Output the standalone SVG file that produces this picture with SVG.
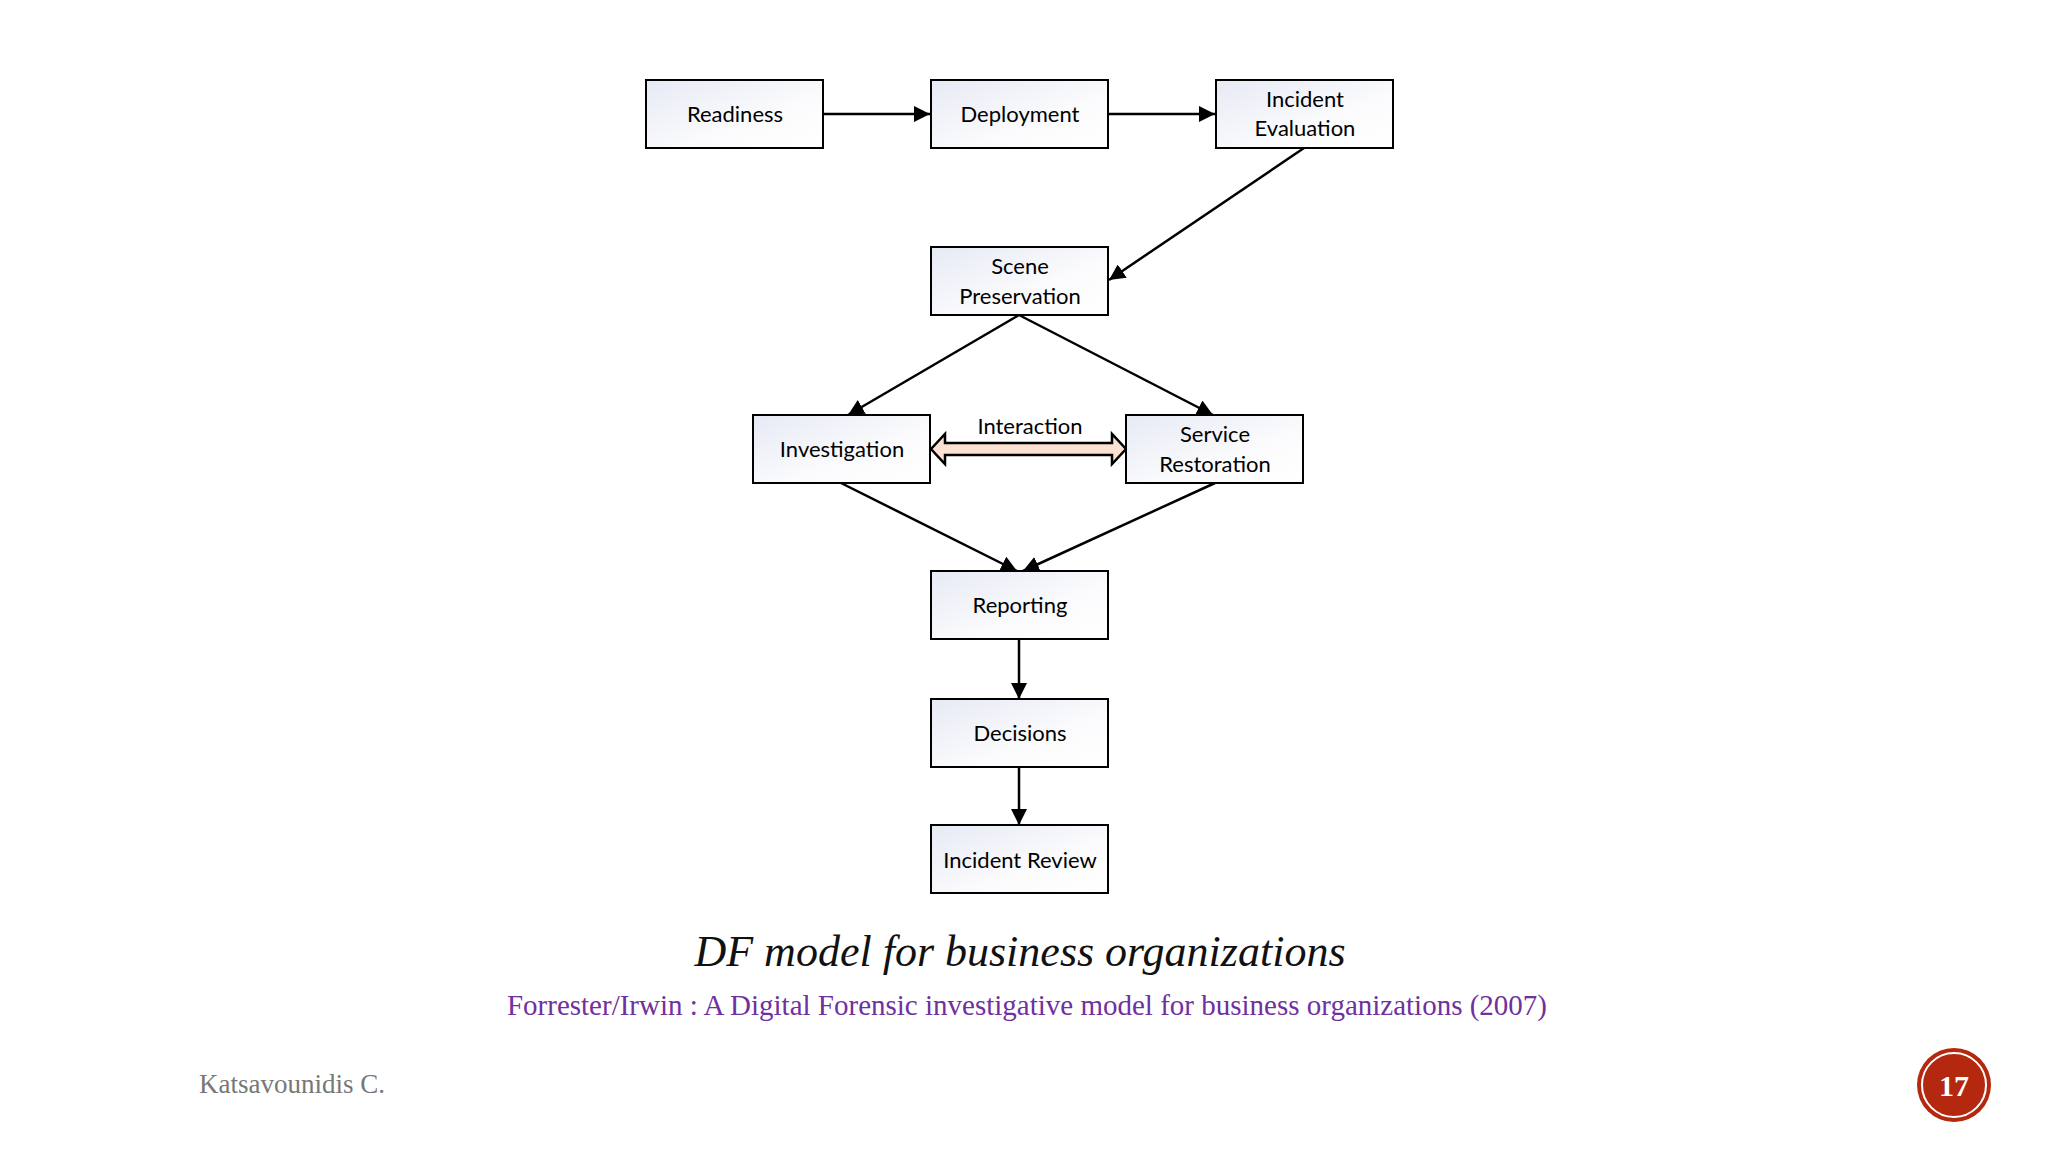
<svg xmlns="http://www.w3.org/2000/svg" width="2048" height="1152" viewBox="0 0 2048 1152">
<style>
.box{fill:url(#g);stroke:#000;stroke-width:2}
.t{font-family:Lato,"Open Sans",sans-serif;font-size:22px;text-anchor:middle;fill:#000}
.c{stroke:#000;stroke-width:2.5;fill:none;marker-end:url(#ah2)}
</style>
<defs>
<linearGradient id="g" x1="0" y1="0" x2="1" y2="1"><stop offset="0" stop-color="#e6eaf4"/><stop offset="0.6" stop-color="#fbfbfd"/><stop offset="1" stop-color="#ffffff"/></linearGradient>
<marker id="ah2" viewBox="0 0 10 10" refX="10" refY="5" markerWidth="16" markerHeight="16" orient="auto" markerUnits="userSpaceOnUse"><path d="M0,0 L10,5 L0,10 z" fill="#000"/></marker>
</defs>
<rect width="2048" height="1152" fill="#fff"/>
<g id="connectors">
<line class="c" x1="823" y1="114" x2="930" y2="114"/>
<line class="c" x1="1108" y1="114" x2="1215" y2="114"/>
<line class="c" x1="1304" y1="148" x2="1109" y2="280"/>
<line class="c" x1="1019" y1="315" x2="848" y2="415"/>
<line class="c" x1="1019" y1="315" x2="1213" y2="415"/>
<line class="c" x1="841" y1="483" x2="1017" y2="571"/>
<line class="c" x1="1215" y1="483" x2="1023" y2="571"/>
<line class="c" x1="1019" y1="639" x2="1019" y2="699"/>
<line class="c" x1="1019" y1="767" x2="1019" y2="825"/>
<path d="M931,449 L945,434 L945,443 L1112,443 L1112,434 L1126,449 L1112,464 L1112,455 L945,455 L945,464 Z" fill="#fbe1d2" stroke="#000" stroke-width="2.5"/>
<text class="t" x="1030" y="434">Interaction</text>
</g>
<g id="readiness"><rect class="box" x="646" y="80" width="177" height="68"/><text class="t" x="735" y="122">Readiness</text></g>
<g id="deployment"><rect class="box" x="931" y="80" width="177" height="68"/><text class="t" x="1020" y="122">Deployment</text></g>
<g id="incident-evaluation"><rect class="box" x="1216" y="80" width="177" height="68"/><text class="t" x="1305" y="107">Incident</text><text class="t" x="1305" y="136">Evaluation</text></g>
<g id="scene-preservation"><rect class="box" x="931" y="247" width="177" height="68"/><text class="t" x="1020" y="274">Scene</text><text class="t" x="1020" y="304">Preservation</text></g>
<g id="investigation"><rect class="box" x="753" y="415" width="177" height="68"/><text class="t" x="842" y="457">Investigation</text></g>
<g id="service-restoration"><rect class="box" x="1126" y="415" width="177" height="68"/><text class="t" x="1215" y="442">Service</text><text class="t" x="1215" y="472">Restoration</text></g>
<g id="reporting"><rect class="box" x="931" y="571" width="177" height="68"/><text class="t" x="1020" y="613">Reporting</text></g>
<g id="decisions"><rect class="box" x="931" y="699" width="177" height="68"/><text class="t" x="1020" y="741">Decisions</text></g>
<g id="incident-review"><rect class="box" x="931" y="825" width="177" height="68"/><text class="t" x="1020" y="868">Incident Review</text></g>
<text x="1020" y="966" font-family="Liberation Serif,serif" font-style="italic" font-size="44" text-anchor="middle" fill="#111">DF model for business organizations</text>
<text x="1027" y="1015" font-family="Liberation Serif,serif" font-size="29" text-anchor="middle" fill="#7030a0">Forrester/Irwin : A Digital Forensic investigative model for business organizations (2007)</text>
<text x="199" y="1093" font-family="Liberation Serif,serif" font-size="27" fill="#777">Katsavounidis C.</text>
<g id="badge"><circle cx="1954" cy="1085" r="37" fill="#b3280e"/><circle cx="1954" cy="1085" r="32" fill="none" stroke="#fff" stroke-width="2"/><text x="1954" y="1096" font-family="Liberation Serif,serif" font-size="30" font-weight="bold" text-anchor="middle" fill="#fff">17</text></g>
</svg>
